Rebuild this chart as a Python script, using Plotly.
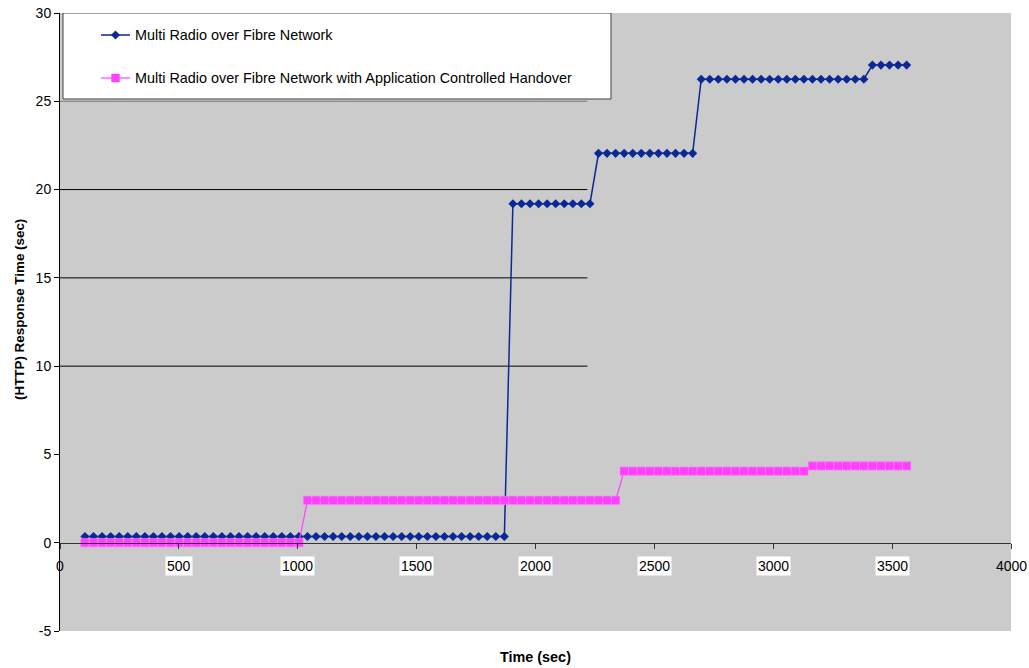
import plotly.graph_objects as go

# ---------------- data ----------------
time_sec = [
    105, 141, 177, 213, 249, 285, 321, 357, 393, 429,
    465, 501, 537, 573, 609, 645, 681, 717, 753, 789,
    825, 861, 897, 933, 969, 1005, 1041, 1077, 1113, 1149,
    1185, 1221, 1257, 1293, 1329, 1365, 1401, 1437, 1473, 1509,
    1545, 1581, 1617, 1653, 1689, 1725, 1761, 1797, 1833, 1869,
    1905, 1941, 1977, 2013, 2049, 2085, 2121, 2157, 2193, 2229,
    2265, 2301, 2337, 2373, 2409, 2445, 2481, 2517, 2553, 2589,
    2625, 2661, 2697, 2733, 2769, 2805, 2841, 2877, 2913, 2949,
    2985, 3021, 3057, 3093, 3129, 3165, 3201, 3237, 3273, 3309,
    3345, 3381, 3417, 3453, 3489, 3525, 3561,
]

multi_radio = [
    0.35, 0.35, 0.35, 0.35, 0.35, 0.35, 0.35, 0.35, 0.35, 0.35,
    0.35, 0.35, 0.35, 0.35, 0.35, 0.35, 0.35, 0.35, 0.35, 0.35,
    0.35, 0.35, 0.35, 0.35, 0.35, 0.35, 0.35, 0.35, 0.35, 0.35,
    0.35, 0.35, 0.35, 0.35, 0.35, 0.35, 0.35, 0.35, 0.35, 0.35,
    0.35, 0.35, 0.35, 0.35, 0.35, 0.35, 0.35, 0.35, 0.35, 0.35,
    19.2, 19.2, 19.2, 19.2, 19.2, 19.2, 19.2, 19.2, 19.2, 19.2,
    22.05, 22.05, 22.05, 22.05, 22.05, 22.05, 22.05, 22.05, 22.05, 22.05,
    22.05, 22.05,
    26.25, 26.25, 26.25, 26.25, 26.25, 26.25, 26.25, 26.25, 26.25, 26.25,
    26.25, 26.25, 26.25, 26.25, 26.25, 26.25, 26.25, 26.25, 26.25, 26.25,
    27.05, 27.05, 27.05, 27.05, 27.05,
]

multi_radio_ach = [
    0.0, 0.0, 0.0, 0.0, 0.0, 0.0, 0.0, 0.0, 0.0, 0.0,
    0.0, 0.0, 0.0, 0.0, 0.0, 0.0, 0.0, 0.0, 0.0, 0.0,
    0.0, 0.0, 0.0, 0.0, 0.0, 0.0,
    2.4, 2.4, 2.4, 2.4, 2.4, 2.4, 2.4, 2.4, 2.4, 2.4,
    2.4, 2.4, 2.4, 2.4, 2.4, 2.4, 2.4, 2.4, 2.4, 2.4,
    2.4, 2.4, 2.4, 2.4, 2.4, 2.4, 2.4, 2.4, 2.4, 2.4,
    2.4, 2.4, 2.4, 2.4, 2.4, 2.4, 2.4,
    4.05, 4.05, 4.05, 4.05, 4.05, 4.05, 4.05, 4.05, 4.05, 4.05,
    4.05, 4.05, 4.05, 4.05, 4.05, 4.05, 4.05, 4.05, 4.05, 4.05,
    4.05, 4.05,
    4.35, 4.35, 4.35, 4.35, 4.35, 4.35, 4.35, 4.35, 4.35, 4.35,
    4.35, 4.35,
]

series_names = [
    "Multi Radio over Fibre Network",
    "Multi Radio over Fibre Network with Application Controlled Handover",
]
x_ticks = [0, 500, 1000, 1500, 2000, 2500, 3000, 3500, 4000]
y_ticks = [-5, 0, 5, 10, 15, 20, 25, 30]
y_tick_text = ["-5", "0", "5", "10", "15", "20", "25", "30"]
partial_grid = [10, 15, 20, 25]

# ---------------- style ----------------
FONT = "Liberation Sans, Arial, Helvetica, sans-serif"
BLUE = "#0A2896"
PINK = "#FF40FF"
GRAY_BG = "#CBCBCB"
W, H = 1029, 668
ML, MR, MT, MB = 60, 18, 13, 37
PW, PH = W - ML - MR, H - MT - MB


def px_x(px):
    return (px - ML) / PW


def px_y(py):
    return (H - MB - py) / PH


fig = go.Figure()

fig.add_trace(go.Scatter(
    x=time_sec, y=multi_radio, mode="lines+markers", name=series_names[0],
    line=dict(color=BLUE, width=1.5),
    marker=dict(symbol="diamond", size=7, color=BLUE),
    showlegend=False, hoverinfo="skip",
))
fig.add_trace(go.Scatter(
    x=time_sec, y=multi_radio_ach, mode="lines+markers", name=series_names[1],
    line=dict(color=PINK, width=1.2),
    marker=dict(symbol="square", size=8.4, color=PINK,
                line=dict(color="#FF80FF", width=0.6)),
    showlegend=False, hoverinfo="skip",
))

# ---------------- manual legend (pixel-coordinate overlay axes) ----------------
lx0, lx1, ly0, ly1 = 63, 611, 13, 99
fig.add_trace(go.Scatter(
    x=[lx0, lx1, lx1, lx0, lx0], y=[ly0, ly0, ly1, ly1, ly0],
    xaxis="x2", yaxis="y2", mode="lines", fill="toself",
    fillcolor="white", line=dict(color="#404040", width=1),
    showlegend=False, hoverinfo="skip",
))
legend_rows = [(35, BLUE, "diamond", 7, 1.5), (78, PINK, "square", 8.4, 1.2)]
for (yy, col, sym, sz, lw), nm in zip(legend_rows, series_names):
    fig.add_trace(go.Scatter(
        x=[101, 130], y=[yy, yy], xaxis="x2", yaxis="y2", mode="lines",
        line=dict(color=col, width=lw), showlegend=False, hoverinfo="skip",
    ))
    fig.add_trace(go.Scatter(
        x=[115.5], y=[yy], xaxis="x2", yaxis="y2", mode="markers",
        marker=dict(symbol=sym, size=sz, color=col),
        showlegend=False, hoverinfo="skip",
    ))
    fig.add_annotation(
        x=px_x(133), y=px_y(yy), xref="paper", yref="paper", text=nm,
        showarrow=False, xanchor="left", yanchor="middle",
        font=dict(family=FONT, size=14.4, color="black"),
    )

# ---------------- partial gridlines ----------------
for g in partial_grid:
    fig.add_shape(
        type="line", xref="x", yref="y", x0=0, x1=2218, y0=g, y1=g,
        line=dict(color="black" if g < 25 else "#7A7A7A", width=1),
        layer="below",
    )

# ---------------- x tick labels with white boxes ----------------
for t in x_ticks:
    edge = t in (x_ticks[0], x_ticks[-1])
    fig.add_annotation(
        x=t, y=px_y(566), xref="x", yref="paper", text=str(t), showarrow=False,
        xanchor="center", yanchor="middle",
        bgcolor="rgba(0,0,0,0)" if edge else "white", borderpad=1,
        font=dict(family=FONT, size=14, color="black"),
    )

# ---------------- axis titles ----------------
fig.add_annotation(
    x=px_x(535.5), y=px_y(657), xref="paper", yref="paper",
    text="<b>Time (sec)</b>",
    showarrow=False, xanchor="center", yanchor="middle",
    font=dict(family=FONT, size=14.4, color="black"),
)
fig.add_annotation(
    x=px_x(19), y=px_y(310), xref="paper", yref="paper",
    text="<b>(HTTP) Response Time (sec)</b>",
    showarrow=False, xanchor="center", yanchor="middle", textangle=-90,
    font=dict(family=FONT, size=13.4, color="black"),
)

fig.update_layout(
    width=W, height=H,
    margin=dict(l=ML, r=MR, t=MT, b=MB, pad=0),
    paper_bgcolor="white", plot_bgcolor=GRAY_BG,
    font=dict(family=FONT, size=14, color="black"),
    showlegend=False,
    xaxis=dict(
        range=[0, 4000], tickvals=x_ticks, showticklabels=False,
        ticks="outside", ticklen=5, tickcolor="#333333", tickwidth=1,
        showline=True, linecolor="#333333", linewidth=1,
        showgrid=False, zeroline=False, anchor="free",
        position=5 / 35, automargin=False, fixedrange=True,
    ),
    yaxis=dict(
        range=[-5, 30], tickvals=y_ticks, ticktext=y_tick_text,
        ticks="outside", ticklen=5,
        tickcolor="black", tickwidth=1, showline=True, linecolor="black",
        linewidth=1, showgrid=False, zeroline=False, automargin=False,
        tickfont=dict(family=FONT, size=14, color="black"),
        fixedrange=True,
    ),
    xaxis2=dict(overlaying="x", range=[ML, W - MR], visible=False,
                anchor="y2", fixedrange=True),
    yaxis2=dict(overlaying="y", range=[H - MB, MT], visible=False,
                anchor="x2", fixedrange=True),
)

fig.write_html(
    "out.html",
    config={"displayModeBar": False},
    post_script="document.body.style.margin='0';"
                "document.body.style.overflow='hidden';",
)
